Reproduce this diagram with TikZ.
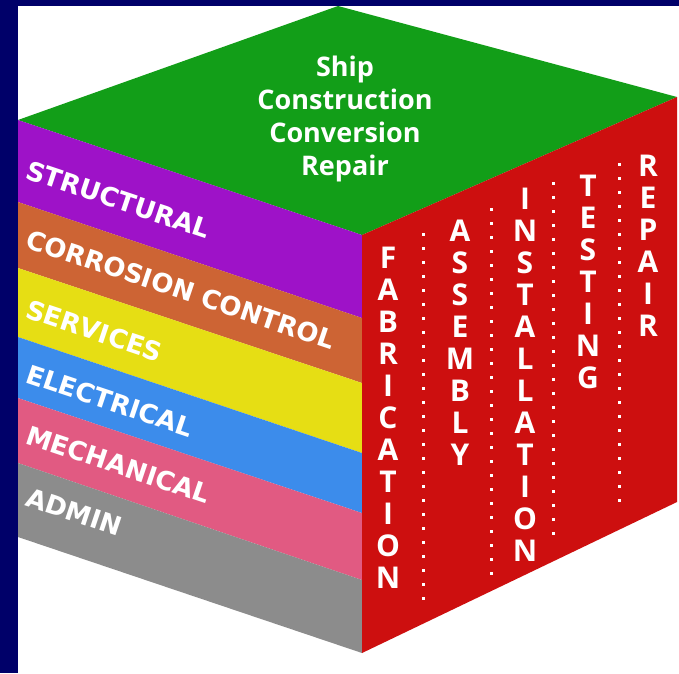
\documentclass[tikz,border=0pt]{standalone}
\usepackage{fontspec}
\setmainfont{Open Sans}
\newfontfamily\stripefont{DejaVu Sans}
\usetikzlibrary{positioning}

\definecolor{navyframe}{RGB}{0,0,105}
\definecolor{topgreen}{RGB}{18,158,24}
\definecolor{stripepurple}{RGB}{158,18,200}
\definecolor{stripeorange}{RGB}{205,100,52}
\definecolor{stripeyellow}{RGB}{230,222,20}
\definecolor{stripeblue}{RGB}{60,140,235}
\definecolor{stripepink}{RGB}{225,90,130}
\definecolor{stripegray}{RGB}{140,140,140}
\definecolor{sidered}{RGB}{205,15,15}

\begin{document}
\begin{tikzpicture}[x=1pt, y=-1pt,
        stripe_label/.style={font=\stripefont\bfseries\fontsize{26}{30}\selectfont, text=white, rotate=-18.5, anchor=west, inner sep=0pt},
        column_label/.style={font=\bfseries\fontsize{30}{32}\selectfont, text=white, align=center, anchor=north, inner sep=0pt},
        top_label/.style={font=\bfseries\fontsize{27}{33}\selectfont, text=white, align=center, anchor=north, inner sep=0pt},
        dot_line/.style={white, line width=3pt, dash pattern=on 3pt off 11pt}
        ]
            % frame
            \fill[navyframe] (0,0) rectangle (679,673);
            \fill[white] (18,6) rectangle (679,673);
            \useasboundingbox (0,0) rectangle (679,673);

            % top face
            \fill[topgreen] (18,120) -- (338,6) -- (677,97) -- (362,235) -- cycle;
            % left face
            \fill[stripepurple] (18,120) -- (362,235) -- (362,318) -- (18,202) -- cycle;
            \fill[stripeorange] (18,202) -- (362,318) -- (362,383) -- (18,268) -- cycle;
            \fill[stripeyellow] (18,268) -- (362,383) -- (362,453) -- (18,337) -- cycle;
            \fill[stripeblue]   (18,337) -- (362,453) -- (362,513) -- (18,398) -- cycle;
            \fill[stripepink]   (18,398) -- (362,513) -- (362,580) -- (18,463) -- cycle;
            \fill[stripegray]   (18,463) -- (362,580) -- (362,653) -- (18,537) -- cycle;
            % right face
            \fill[sidered] (362,235) -- (677,97) -- (677,502) -- (362,653) -- cycle;

            % top text
            \node[top_label] (title) at (345,56) {Ship\\Construction\\Conversion\\Repair};

            % stripes
            \node[stripe_label] (structural) at (27,169) {STRUCTURAL};
            \node[stripe_label] (corrosion)  at (27,238) {CORROSION CONTROL};
            \node[stripe_label] (services)   at (27,308) {SERVICES};
            \node[stripe_label] (electrical) at (27,373) {ELECTRICAL};
            \node[stripe_label] (mechanical) at (27,434) {MECHANICAL};
            \node[stripe_label] (admin)      at (27,496) {ADMIN};

            % columns
            \node[column_label] (fabrication)  at (388,247) {F\\A\\B\\R\\I\\C\\A\\T\\I\\O\\N};
            \node[column_label] (assembly)     at (460,220) {A\\S\\S\\E\\M\\B\\L\\Y};
            \node[column_label] (installation) at (525,188) {I\\N\\S\\T\\A\\L\\L\\A\\T\\I\\O\\N};
            \node[column_label] (testing)      at (588,175) {T\\E\\S\\T\\I\\N\\G};
            \node[column_label] (repair)       at (648,155) {R\\E\\P\\A\\I\\R};

            % dotted dividers
            \coordinate (div_1_top) at (423,233);
            \coordinate (div_1_bot) at (423,603);
            \coordinate (div_2_top) at (491,208);
            \coordinate (div_2_bot) at (491,577);
            \coordinate (div_3_top) at (553,182);
            \coordinate (div_3_bot) at (553,538);
            \coordinate (div_4_top) at (619,163);
            \coordinate (div_4_bot) at (619,503);
            \draw[dot_line] (div_1_top) -- (div_1_bot);
            \draw[dot_line] (div_2_top) -- (div_2_bot);
            \draw[dot_line] (div_3_top) -- (div_3_bot);
            \draw[dot_line] (div_4_top) -- (div_4_bot);
        \end{tikzpicture}
\end{document}
